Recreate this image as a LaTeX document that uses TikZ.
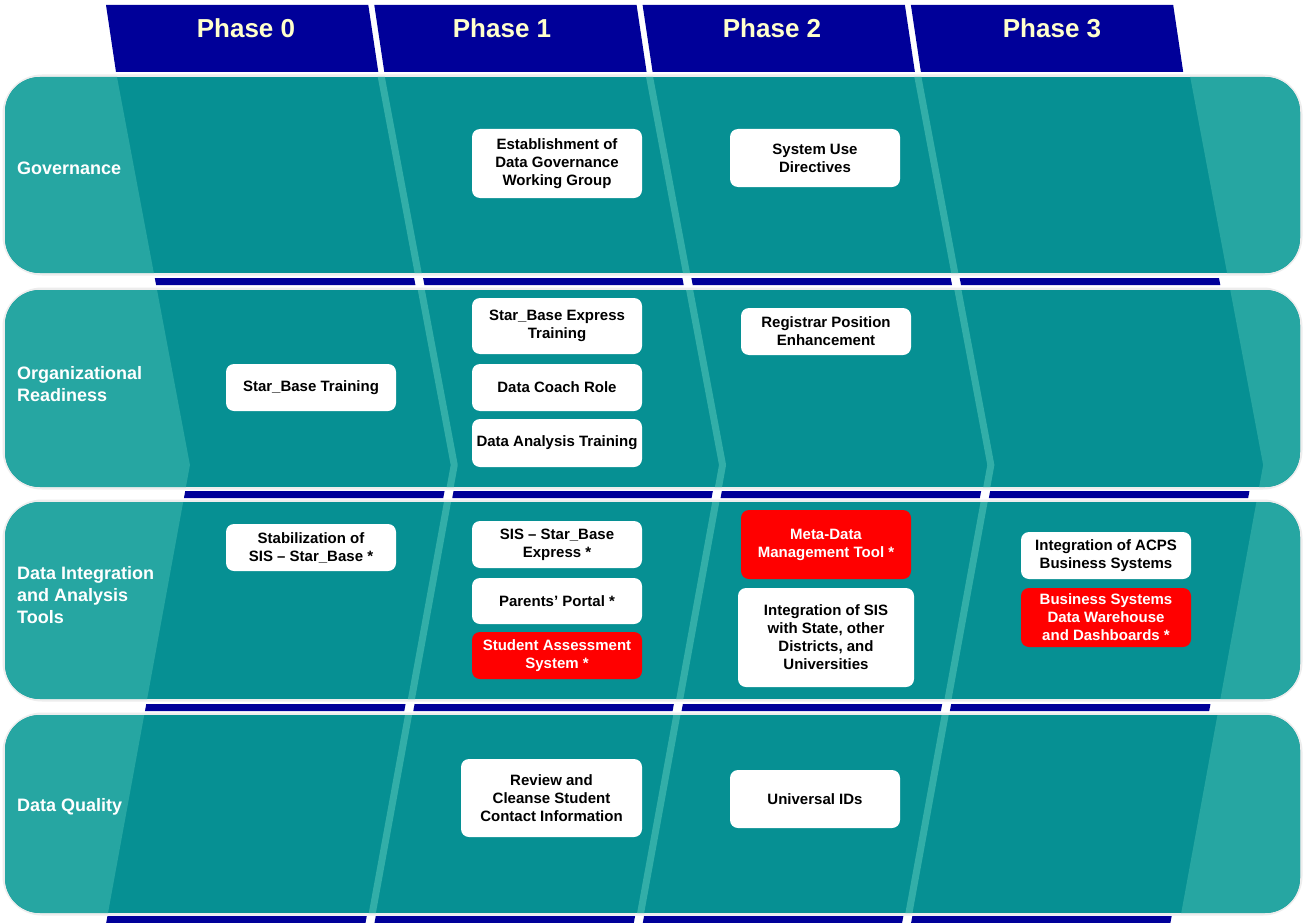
\documentclass[tikz,border=0pt]{standalone}
\usepackage{fontspec}
\setmainfont{Liberation Sans}
\definecolor{tealdark}{RGB}{6,144,147}
\definecolor{teallight}{RGB}{38,166,162}
\definecolor{tealstripe}{RGB}{50,174,168}
\definecolor{hdrblue}{RGB}{0,0,153}
\definecolor{hdrtext}{RGB}{255,255,204}
\definecolor{boxred}{RGB}{255,0,0}
\begin{document}
\begin{tikzpicture}[x=1pt,y=-1pt,
  declare function={bnd(\K,\Y)=117+268.3*\K+ifthenelse(\Y<=465,0.188*(\Y-77),73-0.183*(\Y-465));},
  hdr/.style={text=hdrtext,font=\fontsize{26}{30}\selectfont\bfseries,inner sep=0pt},
  rowlbl/.style={anchor=west,text=white,font=\fontsize{18}{22}\selectfont\bfseries,align=left,inner sep=0pt},
  wbox/.style={rounded corners=8pt,fill=white,text=black,font=\fontsize{15}{18}\selectfont\bfseries,align=center,inner sep=1pt,minimum width=170pt},
  rbox/.style={wbox,fill=boxred,text=white},
  bar/.style={fill=hdrblue},
  halo/.style={draw=black!7,line width=5pt,rounded corners=37pt},
  stripe/.style={draw=tealstripe,line width=7pt,line join=round}
]
\useasboundingbox (0,0) rectangle (1306,923);
\fill[white] (0,0) rectangle (1306,923);

% header parallelograms
\foreach \k in {0,1,2,3}
  \fill[hdrblue] ({bnd(\k,77)-11},5) -- ({bnd(\k+1,77)-17},5) -- ({bnd(\k+1,77)-7},72) -- ({bnd(\k,77)-1},72) -- cycle;

% rows
\foreach \ya/\yb in {77/273,290/487,502/699,715/913}{
  \draw[halo] (5,\ya) rectangle (1300,\yb);
  \begin{scope}
    \clip[rounded corners=35pt] (5,\ya) rectangle (1300,\yb);
    \fill[tealdark] (0,\ya) rectangle (1306,\yb);
    \fill[teallight] (0,0) -- ({bnd(0,0)},0) -- ({bnd(0,465)},465) -- ({bnd(0,923)},923) -- (0,923) -- cycle;
    \fill[teallight] (1306,0) -- ({bnd(4,0)},0) -- ({bnd(4,465)},465) -- ({bnd(4,923)},923) -- (1306,923) -- cycle;
    \foreach \k in {1,2,3}
      \draw[stripe] ({bnd(\k,0)-4},0) -- ({bnd(\k,465)-4},465) -- ({bnd(\k,923)-4},923);
  \end{scope}
}

% bars under rows
\foreach \ya/\yb in {278/285,491/498,704/711,916/923}
  \foreach \k in {0,1,2,3}
    \fill[bar] ({bnd(\k,\ya)},\ya) -- ({bnd(\k+1,\ya)-9},\ya) -- ({bnd(\k+1,\yb)-9},\yb) -- ({bnd(\k,\yb)},\yb) -- cycle;

% header labels
\node[hdr] (ph0) at (246,28) {Phase 0};
\node[hdr] (ph1) at (502,28) {Phase 1};
\node[hdr] (ph2) at (772,28) {Phase 2};
\node[hdr] (ph3) at (1052,28) {Phase 3};

% row labels
\node[rowlbl] (lgov) at (17,168) {Governance};
\node[rowlbl] (lorg) at (17,384) {Organizational\\Readiness};
\node[rowlbl] (ldit) at (17,595) {Data Integration\\and Analysis\\Tools};
\node[rowlbl] (ldq) at (17,807) {Data Quality};

% Governance
\node[wbox,minimum height=69pt] (gov1) at (557,163.5) {Establishment of\\Data Governance\\Working Group};
\node[wbox,minimum height=58pt] (gov2) at (815,158) {System Use\\Directives};

% Organizational readiness
\node[wbox,minimum height=47pt] (org0) at (311,387.5) {Star\_Base Training};
\node[wbox,minimum height=56pt] (org1) at (557,326) {Star\_Base Express\\Training};
\node[wbox,minimum height=47pt] (org2) at (557,387.5) {Data Coach Role};
\node[wbox,minimum height=48pt] (org3) at (557,443) {Data Analysis Training};
\node[wbox,minimum height=47pt] (org4) at (826,331.5) {Registrar Position\\Enhancement};

% Data integration
\node[wbox,minimum height=47pt] (dit0) at (311,547.5) {Stabilization of\\SIS – Star\_Base *};
\node[wbox,minimum height=47pt] (dit1) at (557,544.5) {SIS – Star\_Base\\Express *};
\node[wbox,minimum height=46pt] (dit2) at (557,601) {Parents’ Portal *};
\node[rbox,minimum height=47pt] (dit3) at (557,655.5) {Student Assessment\\System *};
\node[rbox,minimum height=69pt] (dit4) at (826,544.5) {Meta-Data\\Management Tool *};
\node[wbox,minimum width=176pt,minimum height=99pt] (dit5) at (826,637.5) {Integration of SIS\\with State, other\\Districts, and\\Universities};
\node[wbox,minimum height=47pt] (dit6) at (1106,555.5) {Integration of ACPS\\Business Systems};
\node[rbox,minimum height=59pt] (dit7) at (1106,617.5) {Business Systems\\Data Warehouse\\and Dashboards *};

% Data quality
\node[wbox,minimum width=181pt,minimum height=78pt] (dq1) at (551.5,798) {Review and\\Cleanse Student\\Contact Information};
\node[wbox,minimum height=58pt] (dq2) at (815,799) {Universal IDs};
\end{tikzpicture}
\end{document}
